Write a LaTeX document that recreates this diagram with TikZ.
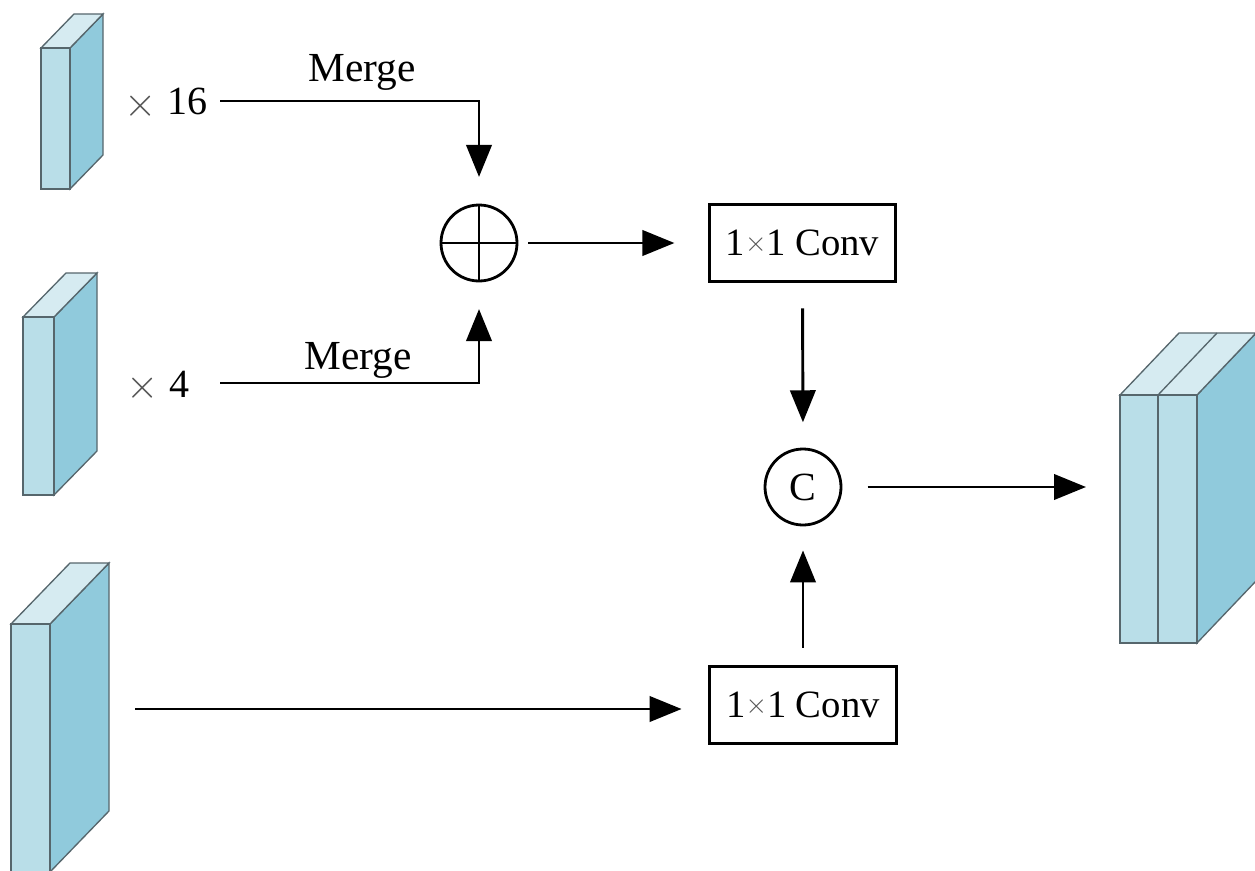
\documentclass[tikz,border=0pt]{standalone}
\usepackage{fontspec}
\setmainfont{Liberation Serif}
\usetikzlibrary{arrows.meta}

\definecolor{slabfront}{HTML}{B9DEE8}
\definecolor{slabside}{HTML}{90CADC}
\definecolor{slabtop}{HTML}{D6EBF1}
\definecolor{slabedge}{HTML}{56666C}
\definecolor{timesgray}{HTML}{555555}

% feature-map slab: front face (x1,y1)-(x2,y2), depth offset (dx,dy)
\newcommand\featslab[6]{%
  \fill[slabside,draw=slabedge,slabline] (#3,#2) -- ++(#5,#6) -- ++(0,#4-#2) -- (#3,#4) -- cycle;
  \fill[slabtop,draw=slabedge,slabline] (#1,#2) -- ++(#5,#6) -- ++(#3-#1,0) -- (#3,#2) -- cycle;
  \fill[slabfront,draw=slabedge,slabline] (#1,#2) rectangle (#3,#4);
}
% multiplication signs
\newcommand\smallx{\raisebox{3pt}{\fontsize{22}{26}\selectfont\color{timesgray}$\times$}}
\newcommand\bigx{\raisebox{-1pt}{\color{timesgray}\scalebox{1.25}{$\times$}}}

\begin{document}
\begin{tikzpicture}[x=0.75pt,y=-0.75pt,
  slabline/.style={line width=1pt},
  conn/.style={line width=2.2pt,-{Triangle[length=24pt,width=19pt]}},
  opcircle/.style={circle,draw,line width=2.1pt,minimum size=57pt,inner sep=0pt},
  convbox/.style={rectangle,draw,line width=2.1pt,minimum width=140pt,minimum height=58pt,inner sep=0pt,font=\fontsize{29}{34}\selectfont},
  lbl/.style={font=\fontsize{31}{36}\selectfont,inner sep=0pt},
  mul/.style={font=\fontsize{30}{36}\selectfont,inner sep=0pt}]
\useasboundingbox (0,0) rectangle (1255,870);
\begin{scope}
\clip (0,0) rectangle (1255,870);
% input feature maps
\featslab{41}{48}{70}{189}{33}{-34}
\featslab{23}{317}{54}{495}{43}{-44}
\featslab{11}{624}{50}{872}{59}{-61}
% concatenated output
\featslab{1120}{395}{1197}{643}{59}{-62}
\draw[slabedge,line width=1pt] (1158,395) -- (1158,643);
\draw[slabedge,line width=1pt] (1158,395) -- ++(59,-62);
\end{scope}

% scale labels
\node[mul,anchor=base west] (x16) at (124,115) {\bigx\hspace{8pt}16};
\node[mul,anchor=base west] (x4) at (126,397) {\bigx\hspace{8pt}4};

% operators and convolutions
\node[opcircle,path picture={
  \draw[line width=2.1pt] (path picture bounding box.north) -- (path picture bounding box.south)
    (path picture bounding box.west) -- (path picture bounding box.east);}] (plus) at (479,243) {};
\node[convbox] (conv1) at (802.5,243) {1\smallx1 Conv};
\node[opcircle,font=\fontsize{30}{36}\selectfont] (cat) at (803,487) {C};
\node[convbox] (conv2) at (803,705) {1\smallx1 Conv};

% free ends of the connectors
\coordinate (s16) at (220,101);
\coordinate (s4) at (220,383);
\coordinate (s1) at (135,709);
\coordinate (out) at (1086,487);

% merge labels
\node[lbl,anchor=base] (m1) at (362,82) {Merge};
\node[lbl,anchor=base] (m2) at (358,369) {Merge};

% connectors
\draw[conn,shorten >=20pt] (s16) -| (plus.north);
\draw[conn,shorten >=20pt] (s4) -| (plus.south);
\draw[conn,shorten <=7.5pt,shorten >=25pt] (plus.east) -- (conv1.west);
\draw[conn,shorten <=19pt,shorten >=19pt] (conv1.south) -- (cat.north);
\draw[conn,shorten <=13pt,shorten >=18pt] (conv2.north) -- (cat.south);
\draw[conn,shorten <=19pt] (cat.east) -- (out);
\draw[conn,shorten >=20pt] (s1) -- (s1 -| conv2.west);
\end{tikzpicture}
\end{document}
